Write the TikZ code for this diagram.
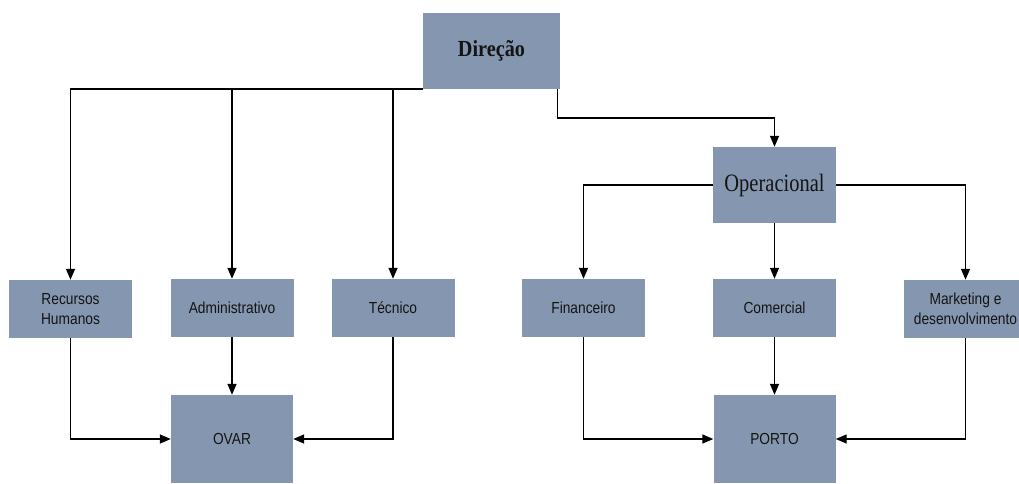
\documentclass[tikz,border=0pt]{standalone}
\usepackage{fontspec}
\setmainfont{Liberation Serif}
\setsansfont{Liberation Sans}
\usetikzlibrary{arrows.meta}
\definecolor{boxfill}{RGB}{133,151,176}
\definecolor{ink}{RGB}{20,20,20}
\begin{document}
\begin{tikzpicture}[x=1pt,y=-1pt,
  unit/.style={draw=none,fill=boxfill,inner sep=0pt,align=center,text=ink},
  topbox/.style={unit,minimum width=137pt,minimum height=76pt},
  opbox/.style={unit,minimum width=123pt,minimum height=76pt},
  deptbox/.style={unit,minimum width=123pt,minimum height=58pt,
    font=\fontsize{16}{20}\sffamily},
  sitebox/.style={unit,minimum width=122pt,minimum height=88pt,
    font=\fontsize{16}{20}\sffamily},
  link/.style={draw=black,line width=1.4pt,
    -{Triangle[length=11pt,width=9pt]}}]
\useasboundingbox (0,0) rectangle (1019,484);
\clip (0,0) rectangle (1019,484);
\fill[white] (0,0) rectangle (1019,484);

% boxes
\node[topbox] (dir) at (491.5,51)
  {\fontsize{23}{25}\selectfont\bfseries\scalebox{0.88}[1]{Direção}};
\node[opbox] (op) at (774.5,185)
  {\fontsize{25}{27}\selectfont\scalebox{0.82}[1]{Operacional}};

\node[deptbox] (rh)  at (70.5,309)  {\scalebox{0.86}[1]{Recursos}\\\scalebox{0.86}[1]{Humanos}};
\node[deptbox] (adm) at (232,308)   {\scalebox{0.86}[1]{Administrativo}};
\node[deptbox] (tec) at (393,308)   {\scalebox{0.86}[1]{Técnico}};
\node[deptbox] (fin) at (583.5,308) {\scalebox{0.86}[1]{Financeiro}};
\node[deptbox] (com) at (774.5,308) {\scalebox{0.86}[1]{Comercial}};
\node[deptbox] (mkt) at (965.5,309) {\scalebox{0.86}[1]{Marketing e}\\\scalebox{0.86}[1]{desenvolvimento}};

\node[sitebox] (ovar)  at (232,439)   {\scalebox{0.86}[1]{OVAR}};
\node[sitebox] (porto) at (774.5,439) {\scalebox{0.86}[1]{PORTO}};

% direção to the departments
\draw[link] (dir.south west) -| (rh.north);
\draw[link] (adm.north |- dir.south) -- (adm.north);
\draw[link] (tec.north |- dir.south) -- (tec.north);
\draw[link] ([xshift=-3pt]dir.south east) -- ++(0,29) -| (op.north);

% operacional to its departments
\draw[link] (op.west) -| (fin.north);
\draw[link] (op.south) -- (com.north);
\draw[link] (op.east) -| (mkt.north);

% departments to the sites
\draw[link] (rh.south) |- (ovar.west);
\draw[link] (adm.south) -- (ovar.north);
\draw[link] (tec.south) |- (ovar.east);
\draw[link] (fin.south) |- (porto.west);
\draw[link] (com.south) -- (porto.north);
\draw[link] (mkt.south) |- (porto.east);
\end{tikzpicture}
\end{document}
